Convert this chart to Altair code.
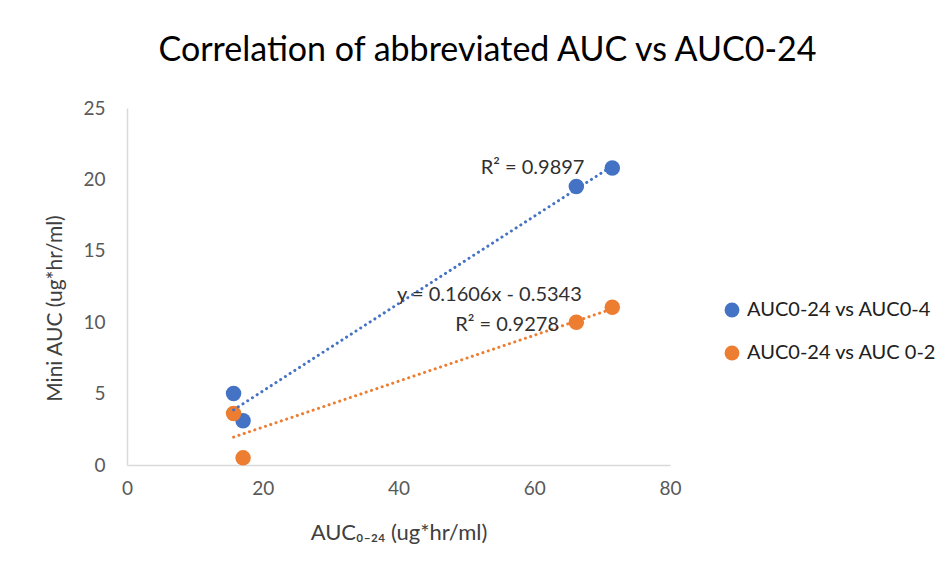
import altair as alt
import pandas as pd

# Data
series_names = ["AUC0-24 vs AUC0-4", "AUC0-24 vs AUC 0-2"]
auc024_x = [15.7, 17.1, 66.2, 71.5]
auc04_y = [5.0, 3.1, 19.5, 20.8]
auc02_y = [3.6, 0.5, 10.0, 11.05]
colors = ["#4472C4", "#ED7D31"]

ann_text = ["R² = 0.9897", "y = 0.1606x - 0.5343", "R² = 0.9278"]
ann_x = [67.4, 53.4, 56.0]
ann_y = [20.8, 11.9, 9.8]

rows = []
for xv, yv in zip(auc024_x, auc04_y):
    rows.append({"x": xv, "y": yv, "series": series_names[0]})
for xv, yv in zip(auc024_x, auc02_y):
    rows.append({"x": xv, "y": yv, "series": series_names[1]})
df = pd.DataFrame(rows)
ann = pd.DataFrame({"text": ann_text, "x": ann_x, "y": ann_y})

FONT = "Lato"
xscale = alt.Scale(domain=[0, 80], nice=False, zero=True)
yscale = alt.Scale(domain=[0, 25], nice=False)
cscale = alt.Scale(domain=series_names, range=colors)

xenc = alt.X("x:Q", scale=xscale,
             axis=alt.Axis(values=[0, 20, 40, 60, 80], title="AUC₀₋₂₄ (ug*hr/ml)",
                           grid=False, ticks=False, domainColor="#d9d9d9",
                           domainWidth=1.5, labelPadding=14, labelFontSize=19,
                           labelFlush=False,
                           labelColor="#595959", titleFontSize=22, titleColor="#404040",
                           titleFontWeight="normal", titleY=57, titleBaseline="top",
                           labelFont=FONT, titleFont=FONT))
yenc = alt.Y("y:Q", scale=yscale,
             axis=alt.Axis(values=[0, 5, 10, 15, 20, 25], title="Mini AUC (ug*hr/ml)",
                           grid=False, ticks=False, domainColor="#d9d9d9",
                           domainWidth=1.5, labelPadding=22, labelFontSize=19,
                           labelFlush=False,
                           labelColor="#595959", titleFontSize=21, titleColor="#404040",
                           titleFontWeight="normal", titleX=-62, titleY=200,
                           labelFont=FONT, titleFont=FONT))

trend = alt.Chart(df).transform_regression(
    "x", "y", groupby=["series"]
).mark_line(strokeDash=[0.1, 5.5], strokeWidth=3, strokeCap="round").encode(
    x=alt.X("x:Q", scale=xscale),
    y=alt.Y("y:Q", scale=yscale),
    color=alt.Color("series:N", scale=cscale, legend=None),
)

points = alt.Chart(df).mark_circle(size=240, opacity=1).encode(
    x=xenc,
    y=yenc,
    color=alt.Color("series:N", scale=cscale,
                    legend=alt.Legend(title=None, orient="none", legendX=595,
                                      legendY=192, symbolType="circle",
                                      symbolSize=220, labelFontSize=20,
                                      labelColor="#202020", labelFont=FONT,
                                      labelLimit=400,
                                      rowPadding=23, labelOffset=5,
                                      symbolStrokeWidth=0)),
)

text_right = alt.Chart(ann.iloc[[0]]).mark_text(fontSize=20, font=FONT, color="#303030",
                                                baseline="middle", align="right").encode(
    x=alt.X("x:Q", scale=xscale), y=alt.Y("y:Q", scale=yscale), text="text:N")
text_center = alt.Chart(ann.iloc[[1, 2]]).mark_text(fontSize=20, font=FONT, color="#303030",
                                                    baseline="middle", align="center").encode(
    x=alt.X("x:Q", scale=xscale), y=alt.Y("y:Q", scale=yscale), text="text:N")

chart = alt.layer(points, trend, text_right, text_center).properties(
    width=543, height=357,
    title=alt.TitleParams("Correlation of abbreviated AUC vs AUC0-24", fontSize=34,
                          font=FONT, fontWeight="normal", color="#000000",
                          anchor="middle", dx=89, offset=31),
    autosize=alt.AutoSizeParams(type="none"),
    padding={"left": 119, "top": 100, "right": 270, "bottom": 100},
).configure_view(stroke=None)

chart.save("out.html", embed_options={"renderer": "svg", "actions": False})
